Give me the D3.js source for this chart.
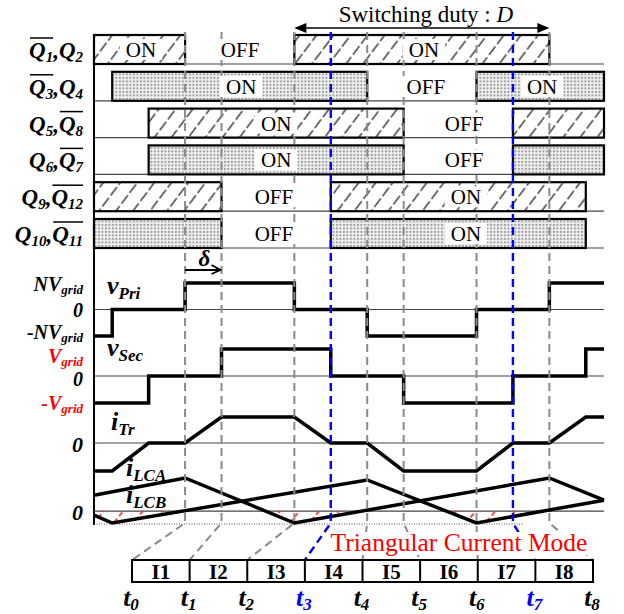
<!DOCTYPE html>
<html><head><meta charset="utf-8">
<script src="https://cdn.jsdelivr.net/npm/d3@7"></script>
<style>body{margin:0;background:#fff} svg{display:block}</style>
</head><body>
<script>
// ---------------- data ----------------
const timeDomain = [-2.5, 11.5];
const instantNames = ["t0","t1","t2","t3","t4","t5","t6","t7","t8"];
const instantTimes = [0, 1, 3, 4, 5, 6, 8, 9, 10];
const highlightedInstants = ["t3", "t7"];
const intervalNames = ["I1","I2","I3","I4","I5","I6","I7","I8"];

const gateLabels = [
  [{m:"Q",s:"1",o:1},{m:","},{m:"Q",s:"2"}],
  [{m:"Q",s:"3",o:1},{m:","},{m:"Q",s:"4"}],
  [{m:"Q",s:"5"},{m:","},{m:"Q",s:"8",o:1}],
  [{m:"Q",s:"6"},{m:","},{m:"Q",s:"7",o:1}],
  [{m:"Q",s:"9"},{m:","},{m:"Q",s:"12",o:1}],
  [{m:"Q",s:"10"},{m:","},{m:"Q",s:"11",o:1}]
];
const gateFill = ["hatch","dots","hatch","dots","hatch","dots"];
const gateOn = [
  [[-2.5, 0], [3, 10]],
  [[-2, 5], [8, 11.5]],
  [[-1, 6], [9, 11.5]],
  [[-1, 6], [9, 11.5]],
  [[-2.5, 1], [4, 11]],
  [[-2.5, 1], [4, 11]]
];
const gateText = [
  [["ON", -1.21], ["OFF", 1.51], ["ON", 6.56]],
  [["ON", 1.54], ["OFF", 6.61], ["ON", 9.8]],
  [["ON", 2.5], ["OFF", 7.66]],
  [["ON", 2.5], ["OFF", 7.66]],
  [["OFF", 2.44], ["ON", 7.71]],
  [["OFF", 2.44], ["ON", 7.71]]
];

// waveforms: [time, level]
const vPri = [[-2.5,-1],[-2,-1],[-2,0],[0,0],[0,1],[3,1],[3,0],[5,0],[5,-1],[8,-1],[8,0],[10,0],[10,1],[11.5,1]];
const vSec = [[-2.5,-1],[-1,-1],[-1,0],[1,0],[1,1],[4,1],[4,0],[6,0],[6,-1],[9,-1],[9,0],[11,0],[11,1],[11.5,1]];
const iTr  = [[-2.5,-1],[-2,-1],[-1,0],[0,0],[1,1],[3,1],[4,0],[5,0],[6,-1],[8,-1],[9,0],[10,0],[11,1],[11.5,1]];
const iLCA = [[-2.5,0.48],[0,1],[3,-0.36],[10,1],[11.5,0.33]];
const iLCB = [[-2.5,-0.12],[-2,-0.36],[5,0.94],[8,-0.36],[11.5,0.33]];

const vPriTicks = [[1,"NV","grid"],[0,"0",""],[-1,"-NV","grid"]];
const vSecTicks = [[1,"V","grid"],[0,"0",""],[-1,"-V","grid"]];
const dutySpan = [3, 10];
const deltaSpan = [0, 1];

// ---------------- layout ----------------
const W = 624, H = 614;
const serif = "Liberation Serif, Tinos, Times New Roman, DejaVu Serif, serif";
const svg = d3.select("body").append("svg").attr("width", W).attr("height", H);
const defs = svg.append("defs");

const x = d3.scaleLinear().domain(timeDomain).range([94, 604]);
const xb = d3.scaleLinear().domain([0, intervalNames.length]).range([132, 593]);
const rowY = d3.scalePoint().domain(d3.range(gateLabels.length)).range([64, 248]);
const barH = 29;
const yPri = d3.scaleLinear().domain([-1, 1]).range([336, 283]);
const ySec = d3.scaleLinear().domain([-1, 1]).range([403, 349]);
const yTr  = d3.scaleLinear().domain([-1, 0, 1]).range([471, 443, 417]);
const yLC  = d3.scaleLinear().domain([-0.36, 1]).range([523, 478]);
const yBend = 523, yBoxTop = 560, yBoxBot = 582;

// patterns
const hatch = defs.append("pattern").attr("id","hatch").attr("patternUnits","userSpaceOnUse")
  .attr("width",13.6).attr("height",13.6).attr("patternTransform","rotate(37)");
hatch.append("rect").attr("width",13.6).attr("height",13.6).attr("fill","#fff");
hatch.append("line").attr("x1",2).attr("y1",0).attr("x2",2).attr("y2",13.6)
  .attr("stroke","#333").attr("stroke-width",1.4).attr("stroke-dasharray","8,3");
const dots = defs.append("pattern").attr("id","dots").attr("patternUnits","userSpaceOnUse")
  .attr("width",3.5).attr("height",3.5);
dots.append("rect").attr("width",3.5).attr("height",3.5).attr("fill","#ececec");
dots.append("rect").attr("width",1.8).attr("height",1.8).attr("fill","#9a9a9a");
const redh = defs.append("pattern").attr("id","redhatch").attr("patternUnits","userSpaceOnUse")
  .attr("width",15).attr("height",15).attr("patternTransform","rotate(40)");
redh.append("line").attr("x1",3).attr("y1",0).attr("x2",3).attr("y2",15)
  .attr("stroke","#ff2020").attr("stroke-width",1.6).attr("stroke-dasharray","4,3");

// rich text helper
function richText(sel, px, py, parts, o) {
  const t = sel.append("text").attr("x", px).attr("y", py)
    .attr("text-anchor", o.anchor || "end")
    .style("font-family", serif).attr("font-weight", "bold").attr("font-style", o.style || "italic")
    .attr("font-size", o.size).attr("fill", o.color || "#000");
  let shift = 0, idx = 0; const overs = [];
  parts.forEach(p => {
    const start = idx;
    t.append("tspan").attr("dy", -shift).text(p.m); shift = 0; idx += p.m.length;
    if (p.s) { t.append("tspan").attr("dy", o.subDy).attr("font-size", o.subSize).text(p.s); shift = o.subDy; idx += p.s.length; }
    if (p.o) overs.push([start, idx - 1]);
  });
  const n = t.node();
  overs.forEach(([a, b]) => {
    const x0 = n.getStartPositionOfChar(a).x, x1 = n.getEndPositionOfChar(b).x;
    sel.append("line").attr("x1", x0 + 1).attr("x2", x1).attr("y1", py - 20).attr("y2", py - 20)
      .attr("stroke", "#000").attr("stroke-width", 1.5);
  });
  return t;
}

// ---------------- gate rows ----------------
const gRows = svg.append("g");
gateLabels.forEach((lab, i) => {
  const yb = rowY(i);
  gRows.append("line").attr("x1", 94).attr("x2", 604).attr("y1", yb).attr("y2", yb)
    .attr("stroke", "#444").attr("stroke-width", 1.2);
  gateOn[i].forEach(([a, b]) => {
    gRows.append("rect").attr("x", x(a)).attr("y", yb - barH).attr("width", x(b) - x(a)).attr("height", barH)
      .attr("fill", `url(#${gateFill[i]})`).attr("stroke", "#000").attr("stroke-width", 2.2);
  });
  richText(gRows, 83, yb - 6, lab, {size: 23, subSize: 15, subDy: 4});
});

// left axis line
svg.append("line").attr("x1", 94).attr("x2", 94).attr("y1", 35).attr("y2", 525)
  .attr("stroke", "#000").attr("stroke-width", 2);

// zero lines
[yPri(0), ySec(0), yTr(0), yLC(0)].forEach(yy => {
  svg.append("line").attr("x1", 94).attr("x2", 604).attr("y1", yy).attr("y2", yy)
    .attr("stroke", "#444").attr("stroke-width", 1.2);
});
svg.append("line").attr("x1", 94).attr("x2", 523).attr("y1", yBend + 1).attr("y2", yBend + 1)
  .attr("stroke", "#555").attr("stroke-width", 1).attr("stroke-dasharray", "1,1.5");

// red triangular-current hatch
function interp(pts, t) {
  for (let k = 0; k < pts.length - 1; k++) {
    const [t0, v0] = pts[k], [t1, v1] = pts[k + 1];
    if (t >= t0 && t <= t1) return t1 === t0 ? v1 : v0 + (v1 - v0) * (t - t0) / (t1 - t0);
  }
  return pts[pts.length - 1][1];
}
const samples = d3.range(timeDomain[0], timeDomain[1] + 0.001, 0.02);
svg.append("path").datum(samples)
  .attr("d", d3.area().x(t => x(t)).y0(yLC(0))
    .y1(t => yLC(Math.min(0, interp(iLCA, t), interp(iLCB, t)))))
  .attr("fill", "url(#redhatch)");

// waveforms
const line = (ys) => d3.line().x(d => x(d[0])).y(d => ys(d[1]));
[[vPri, yPri], [vSec, ySec], [iTr, yTr], [iLCA, yLC], [iLCB, yLC]].forEach(([data, ys]) => {
  svg.append("path").datum(data).attr("d", line(ys)).attr("fill", "none")
    .attr("stroke", "#000").attr("stroke-width", 3.5).attr("stroke-linejoin", "miter");
});

// vertical dashed guide lines
instantNames.forEach((nm, i) => {
  const hl = highlightedInstants.includes(nm);
  const xx = x(instantTimes[i]);
  svg.append("path").attr("d", `M${xx},32 V${yBend} L${xb(i)},${yBoxTop}`)
    .attr("fill", "none").attr("stroke", hl ? "#0000ff" : "#8a8a8a")
    .attr("stroke-width", hl ? 2.4 : 2).attr("stroke-dasharray", "8,5");
});

// ON/OFF labels with white background
gateText.forEach((arr, i) => {
  const yb = rowY(i);
  arr.forEach(([txt, t]) => {
    const tx = svg.append("text").attr("x", x(t)).attr("y", yb - barH / 2 + 7.5)
      .attr("text-anchor", "middle").style("font-family", serif).attr("font-size", 21).text(txt);
    const bb = tx.node().getBBox();
    svg.insert("rect", () => tx.node()).attr("x", bb.x - 6).attr("y", yb - barH + 4)
      .attr("width", bb.width + 12).attr("height", barH - 8).attr("fill", "#fff");
  });
});

// level labels
vPriTicks.forEach(([lv, m, s], k) => {
  richText(svg, 83, yPri(lv) + [8, 7, 3][k], [{m, s}], {size: 20, subSize: 13, subDy: 3});
});
vSecTicks.forEach(([lv, m, s], k) => {
  richText(svg, 83, ySec(lv) + [14, 10, 7][k], [{m, s}], {size: 20, subSize: 13, subDy: 3, color: lv === 0 ? "#000" : "#ff0000"});
});
richText(svg, 83, yTr(0) + 9, [{m: "0"}], {size: 22});
richText(svg, 83, yLC(0) + 9, [{m: "0"}], {size: 22});

// waveform names
richText(svg, 107, 294, [{m: "v", s: "Pri"}], {anchor: "start", size: 26, subSize: 17, subDy: 5});
richText(svg, 107, 356, [{m: "v", s: "Sec"}], {anchor: "start", size: 26, subSize: 17, subDy: 5});
richText(svg, 111, 430, [{m: "i", s: "Tr"}], {anchor: "start", size: 26, subSize: 17, subDy: 5});
richText(svg, 126, 476, [{m: "i", s: "LCA"}], {anchor: "start", size: 26, subSize: 17, subDy: 5});
richText(svg, 126, 503, [{m: "i", s: "LCB"}], {anchor: "start", size: 26, subSize: 17, subDy: 5});

// switching duty arrow
const dA = x(dutySpan[0]), dB = x(dutySpan[1]), dy0 = 28;
svg.append("line").attr("x1", dA + 6).attr("x2", dB - 6).attr("y1", dy0).attr("y2", dy0)
  .attr("stroke", "#000").attr("stroke-width", 1.6);
svg.append("path").attr("d", `M${dA},${dy0} l12,-5 v10 z M${dB},${dy0} l-12,-5 v10 z`).attr("fill", "#000");
svg.append("text").attr("x", (dA + dB) / 2 + 4).attr("y", 22).attr("text-anchor", "middle")
  .style("font-family", serif).attr("font-size", 23)
  .call(t => { t.append("tspan").text("Switching duty : "); t.append("tspan").attr("font-style", "italic").text("D"); });

// delta arrow
const eA = x(deltaSpan[0]), eB = x(deltaSpan[1]), ey = 270;
svg.append("path").attr("d", `M${eA},${ey} H${eB - 1} M${eB - 10},${ey - 5} L${eB - 1},${ey} L${eB - 10},${ey + 4}`)
  .attr("fill", "none").attr("stroke", "#000").attr("stroke-width", 1.8);
svg.append("text").attr("x", (eA + eB) / 2 + 1).attr("y", 266).attr("text-anchor", "middle")
  .style("font-family", serif).attr("font-style", "italic").attr("font-weight", "bold").attr("font-size", 23).text("δ");

// Triangular current mode label
const tcm = svg.append("text").attr("x", 459).attr("y", 551).attr("text-anchor", "middle")
  .style("font-family", serif).attr("font-size", 25.5).attr("fill", "#ff0000").text("Triangular Current Mode");
const tb = tcm.node().getBBox();
svg.insert("rect", () => tcm.node()).attr("x", tb.x - 2).attr("y", tb.y + 4).attr("width", tb.width + 4)
  .attr("height", tb.height - 6).attr("fill", "#fff");

// interval box
svg.append("rect").attr("x", xb(0)).attr("y", yBoxTop).attr("width", xb(intervalNames.length) - xb(0))
  .attr("height", yBoxBot - yBoxTop).attr("fill", "#fff").attr("stroke", "#000").attr("stroke-width", 2);
intervalNames.forEach((nm, i) => {
  if (i > 0) svg.append("line").attr("x1", xb(i)).attr("x2", xb(i)).attr("y1", yBoxTop).attr("y2", yBoxBot)
    .attr("stroke", "#000").attr("stroke-width", 2);
  svg.append("text").attr("x", (xb(i) + xb(i + 1)) / 2).attr("y", 579).attr("text-anchor", "middle")
    .style("font-family", serif).attr("font-weight", "bold").attr("font-size", 21).text(nm);
});
instantNames.forEach((nm, i) => {
  const hl = highlightedInstants.includes(nm);
  richText(svg, xb(i) - 1, 606, [{m: "t", s: nm.slice(1)}],
    {anchor: "middle", size: 26, subSize: 17, subDy: 4, color: hl ? "#0000ff" : "#000"});
});
</script>
</body></html>
